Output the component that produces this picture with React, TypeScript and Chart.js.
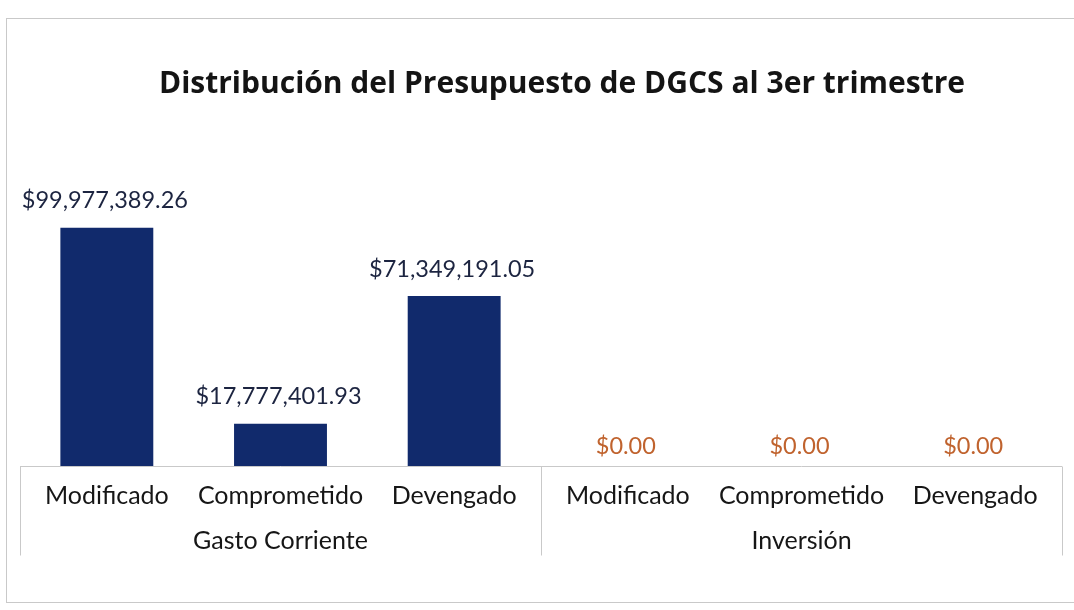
import React, { useEffect, useRef } from "react";
import { Chart, registerables } from "chart.js";

Chart.register(...registerables);

const chartTitle = "Distribución del Presupuesto de DGCS al 3er trimestre";
const groupNames = ["Gasto Corriente", "Inversión"];
const categories = ["Modificado", "Comprometido", "Devengado", "Modificado", "Comprometido", "Devengado"];
const categoryGroup = [0, 0, 0, 1, 1, 1];
const amounts = [99977389.26, 17777401.93, 71349191.05, 0, 0, 0];
const yMax = 120000000;

const BAR_COLOR = "#112a6c";
const LABEL_COLOR = "#1c2440";
const ZERO_COLOR = "#c0632e";
const LINE_COLOR = "#c9c9c9";
const FONT = "Lato, 'Open Sans', sans-serif";

const fmt = (v: number) =>
  "$" + v.toLocaleString("en-US", { minimumFractionDigits: 2, maximumFractionDigits: 2 });

const decorPlugin = {
  id: "decor",
  afterDraw(chart: any) {
    const ctx = chart.ctx as CanvasRenderingContext2D;
    const area = chart.chartArea;
    const xs = chart.scales.x;
    ctx.save();

    // outer border
    ctx.strokeStyle = LINE_COLOR;
    ctx.lineWidth = 1;
    ctx.strokeRect(6.5, 18.5, 1090, 584);

    // title
    ctx.fillStyle = "#141414";
    ctx.font = `bold 30px 'Open Sans', ${FONT}`;
    ctx.textAlign = "center";
    ctx.textBaseline = "middle";
    ctx.fillText(chartTitle, 562, 84);

    // axis table lines
    const axisY = Math.round(area.bottom) + 0.5;
    const tableBottom = axisY + 89;
    const n = categories.length;
    const catW = xs.getPixelForValue(1) - xs.getPixelForValue(0);
    const leftEdge = xs.getPixelForValue(0) - catW / 2;
    const rightEdge = xs.getPixelForValue(n - 1) + catW / 2;
    ctx.beginPath();
    ctx.moveTo(leftEdge, axisY);
    ctx.lineTo(rightEdge, axisY);
    const boundaries: number[] = [leftEdge];
    for (let i = 1; i < n; i++) {
      if (categoryGroup[i] !== categoryGroup[i - 1]) {
        boundaries.push((xs.getPixelForValue(i - 1) + xs.getPixelForValue(i)) / 2);
      }
    }
    boundaries.push(rightEdge);
    boundaries.forEach((bx) => {
      const x = Math.round(bx) + 0.5;
      ctx.moveTo(x, axisY);
      ctx.lineTo(x, tableBottom);
    });
    ctx.stroke();

    // category labels
    ctx.fillStyle = "#161616";
    ctx.font = `25px ${FONT}`;
    categories.forEach((c, i) => {
      ctx.fillText(c, xs.getPixelForValue(i), axisY + 29);
    });

    // group labels
    groupNames.forEach((g, gi) => {
      const idx = categoryGroup.map((v, i) => (v === gi ? i : -1)).filter((i) => i >= 0);
      const cx = (xs.getPixelForValue(idx[0]) + xs.getPixelForValue(idx[idx.length - 1])) / 2;
      ctx.fillText(g, cx, axisY + 74);
    });

    // data labels
    const meta = chart.getDatasetMeta(0);
    ctx.font = `23.5px ${FONT}`;
    meta.data.forEach((bar: any, i: number) => {
      const v = amounts[i];
      ctx.fillStyle = v === 0 ? ZERO_COLOR : LABEL_COLOR;
      ctx.fillText(fmt(v), bar.x - 2, bar.y - (v === 0 ? 20 : 27));
    });

    ctx.restore();
  },
};

export default function App() {
  const canvasRef = useRef<HTMLCanvasElement | null>(null);

  useEffect(() => {
    if (!canvasRef.current) return;
    const chart = new Chart(canvasRef.current, {
      type: "bar",
      data: {
        labels: categories,
        datasets: [
          {
            data: amounts,
            backgroundColor: BAR_COLOR,
            borderWidth: 0,
            barPercentage: 0.535,
            categoryPercentage: 1,
          },
        ],
      },
      options: {
        animation: false,
        responsive: true,
        maintainAspectRatio: false,
        layout: { padding: { left: 20, right: 12, top: 180, bottom: 144 } },
        plugins: {
          legend: { display: false },
          title: { display: false },
          tooltip: { enabled: false },
        },
        scales: {
          x: { display: false },
          y: { display: false, min: 0, max: yMax },
        },
      },
      plugins: [decorPlugin],
    });
    return () => chart.destroy();
  }, []);

  return (
    <div
      style={{
        position: "fixed",
        left: 0,
        top: 0,
        width: 1074,
        height: 610,
        background: "#ffffff",
      }}
    >
      <canvas ref={canvasRef} />
    </div>
  );
}
